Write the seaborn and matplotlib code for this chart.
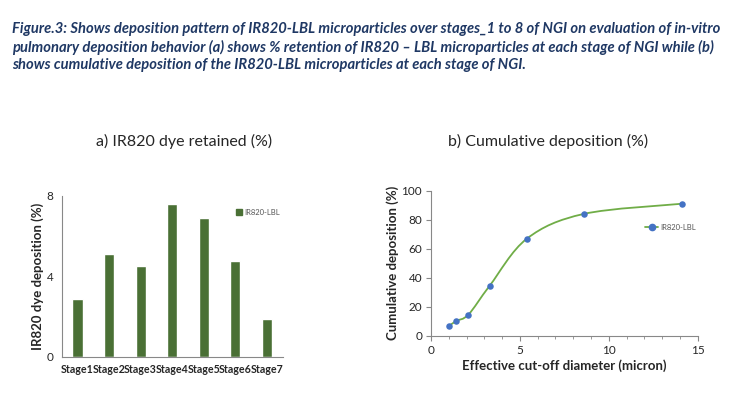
import numpy as np
import matplotlib
matplotlib.use('Agg')
import matplotlib.pyplot as plt
from matplotlib.path import Path
from matplotlib.patches import PathPatch
from matplotlib.lines import Line2D
import seaborn as sns
import pandas as pd

# panel a) data
stages = ['Stage1', 'Stage2', 'Stage3', 'Stage4', 'Stage5', 'Stage6', 'Stage7']
retained = [2.85, 5.1, 4.5, 7.6, 6.9, 4.75, 1.9]

# panel b) data
cutoff_diam = [1.0, 1.4, 2.1, 3.3, 5.4, 8.6, 14.1]
cumulative = [6.5, 10.0, 14.5, 34.5, 67.0, 84.0, 91.0]

series_name = 'IR820-LBL'
caption = ("Figure.3: Shows deposition pattern of IR820-LBL microparticles over stages_1 to 8 of NGI on evaluation of in-vitro\n"
           "pulmonary deposition behavior (a) shows % retention of IR820 \u2013 LBL microparticles at each stage of NGI while (b)\n"
           "shows cumulative deposition of the IR820-LBL microparticles at each stage of NGI.")

sns.set_style('white')
plt.rcParams['font.family'] = ['Lato', 'DejaVu Sans']

bar_green = '#4a7035'
line_green = '#70ad47'
dot_blue = '#4472c4'
navy = '#1f3864'

fig = plt.figure(figsize=(7.32, 3.99), dpi=100)
fig.text(0.016, 0.945, caption, color=navy, fontsize=10.65, fontweight='bold',
         fontstyle='italic', va='top', ha='left', linespacing=1.3)

# ---- a) bar chart
ax1 = fig.add_axes([0.0843, 0.106, 0.302, 0.403])
df_a = pd.DataFrame({'stage': stages, 'val': retained})
sns.barplot(data=df_a, x='stage', y='val', color=bar_green, width=0.32,
            saturation=1, ax=ax1)
ax1.set_xlim(-0.5, 6.5)
ax1.set_ylim(0, 8)
ax1.set_yticks([0, 4, 8])
ax1.set_xlabel('')
ax1.set_ylabel('IR820 dye deposition (%)', fontsize=9.5, fontweight='bold', labelpad=2)
for sp in ['top', 'right']:
    ax1.spines[sp].set_visible(False)
for sp in ['left', 'bottom']:
    ax1.spines[sp].set_color('#888888')
    ax1.spines[sp].set_linewidth(0.8)
ax1.tick_params(axis='y', direction='out', length=3, color='#888888', labelsize=8.5, pad=3)
ax1.tick_params(axis='x', length=0, labelsize=7.7, pad=5)
for lab in ax1.get_xticklabels():
    lab.set_fontweight('bold')
ax1.legend(handles=[Line2D([], [], marker='s', color='none', markerfacecolor=bar_green,
                           markeredgecolor=bar_green, markersize=5, label=series_name)],
           loc='upper left', bbox_to_anchor=(0.78, 0.94), frameon=False, fontsize=5.5,
           handlelength=0.6, handletextpad=0.3, labelcolor='#555555', borderaxespad=0)
fig.text(0.252, 0.646, 'a) IR820 dye retained (%)', fontsize=11.5, ha='center', va='center')

# ---- b) cumulative curve
ax2 = fig.add_axes([0.589, 0.159, 0.364, 0.363])
xs = np.asarray(cutoff_diam)
ys = np.asarray(cumulative)
pts = np.column_stack([xs, ys])
ext = np.vstack([pts[0], pts, pts[-1]])
verts = [tuple(pts[0])]
codes = [Path.MOVETO]
for i in range(len(pts) - 1):
    p0, p1, p2, p3 = ext[i], ext[i + 1], ext[i + 2], ext[i + 3]
    c1 = p1 + (p2 - p0) / 6.0
    c2 = p2 - (p3 - p1) / 6.0
    verts += [tuple(c1), tuple(c2), tuple(p2)]
    codes += [Path.CURVE4] * 3
ax2.add_patch(PathPatch(Path(verts, codes), facecolor='none', edgecolor=line_green,
                        linewidth=1.3, zorder=2))
df_b = pd.DataFrame({'d': cutoff_diam, 'c': cumulative})
sns.scatterplot(data=df_b, x='d', y='c', color=dot_blue, s=22, edgecolor=dot_blue,
                linewidth=0, zorder=3, ax=ax2)
ax2.set_xlim(0, 15)
ax2.set_ylim(0, 100)
ax2.set_xticks([0, 5, 10, 15])
ax2.set_xticks(np.arange(0, 16, 1), minor=True)
ax2.set_yticks(np.arange(0, 101, 20))
ax2.set_xlabel('Effective cut-off diameter (micron)', fontsize=9.5, fontweight='bold', labelpad=3)
ax2.set_ylabel('Cumulative deposition (%)', fontsize=9.5, fontweight='bold', labelpad=2)
for sp in ['top', 'right']:
    ax2.spines[sp].set_visible(False)
for sp in ['left', 'bottom']:
    ax2.spines[sp].set_color('#888888')
    ax2.spines[sp].set_linewidth(0.8)
ax2.tick_params(axis='both', which='major', direction='out', length=3.5, color='#888888',
                labelsize=8.5, pad=3, bottom=True, left=True)
ax2.tick_params(axis='x', which='minor', direction='out', length=2, color='#888888', bottom=True)
ax2.legend(handles=[Line2D([], [], color=line_green, lw=1.3, marker='o', markersize=4.5,
                           markerfacecolor=dot_blue, markeredgecolor=dot_blue, label=series_name)],
           loc='center left', bbox_to_anchor=(0.79, 0.745), frameon=False, fontsize=5.5,
           handlelength=1.8, handletextpad=0.2, labelcolor='#555555', borderaxespad=0)
fig.text(0.749, 0.646, 'b) Cumulative deposition (%)', fontsize=11.5, ha='center', va='center')

fig.savefig('out.png', dpi=100)
